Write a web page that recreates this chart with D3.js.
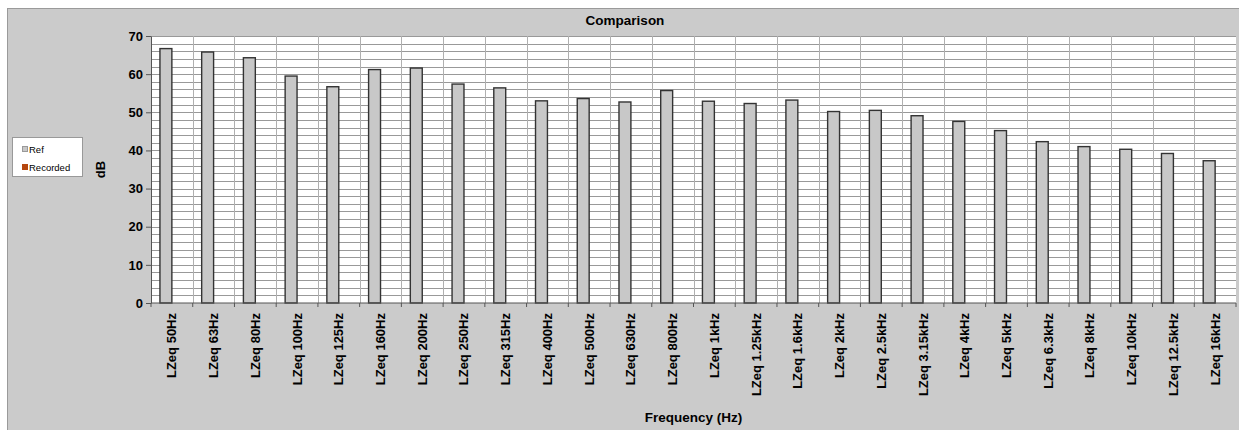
<!DOCTYPE html>
<html lang="en">
<head>
    <meta charset="UTF-8">
    <title>Comparison</title>
    <script src="https://d3js.org/d3.v7.min.js"></script>
    <style>
        body {
            margin: 0;
            padding: 0;
            background: #ffffff;
            font-family: 'Liberation Sans', Arial, sans-serif;
        }
        .axis text {
            font-size: 13px;
            font-weight: bold;
            fill: #000;
        }
        .legend text {
            font-size: 9.5px;
        }
    </style>
</head>
<body>
    <div id="chart"></div>
    <script>
        const categories = ["LZeq 50Hz", "LZeq 63Hz", "LZeq 80Hz", "LZeq 100Hz", "LZeq 125Hz", "LZeq 160Hz",
            "LZeq 200Hz", "LZeq 250Hz", "LZeq 315Hz", "LZeq 400Hz", "LZeq 500Hz", "LZeq 630Hz", "LZeq 800Hz",
            "LZeq 1kHz", "LZeq 1.25kHz", "LZeq 1.6kHz", "LZeq 2kHz", "LZeq 2.5kHz", "LZeq 3.15kHz", "LZeq 4kHz",
            "LZeq 5kHz", "LZeq 6.3kHz", "LZeq 8kHz", "LZeq 10kHz", "LZeq 12.5kHz", "LZeq 16kHz"];
        const refValues = [66.7, 65.8, 64.3, 59.5, 56.7, 61.2, 61.6, 57.4, 56.4, 53.0, 53.6, 52.7, 55.7,
            52.9, 52.3, 53.2, 50.2, 50.5, 49.1, 47.6, 45.2, 42.3, 41.0, 40.3, 39.2, 37.3];
        // the recorded series has no values in the source chart
        const recordedValues = categories.map(() => null);
        const seriesNames = ["Ref", "Recorded"];
        const seriesColors = ["#c8c8c8", "#b5460f"];
        const yTicks = [0, 10, 20, 30, 40, 50, 60, 70];

        const W = 1239, H = 430;
        const plot = { left: 151, top: 36, right: 1236, bottom: 303 };

        const svg = d3.select("#chart").append("svg")
            .attr("width", W)
            .attr("height", H);

        // grey chart frame
        svg.append("rect")
            .attr("x", 7.5).attr("y", 8.5)
            .attr("width", W).attr("height", H)
            .attr("fill", "#cbcbcb")
            .attr("stroke", "#9a9a9a");

        svg.append("text")
            .attr("x", 625).attr("y", 25)
            .attr("text-anchor", "middle")
            .attr("font-size", 13.5).attr("font-weight", "bold")
            .text("Comparison");

        const x = d3.scaleBand().domain(categories).range([plot.left, plot.right]).paddingInner(0).paddingOuter(0);
        const x1 = d3.scaleBand().domain(seriesNames).range([0, x.bandwidth()]).paddingInner(0).paddingOuter(0.75);
        const y = d3.scaleLinear().domain([0, 70]).range([plot.bottom, plot.top]);

        // plot background
        svg.append("rect")
            .attr("x", plot.left).attr("y", plot.top)
            .attr("width", plot.right - plot.left).attr("height", plot.bottom - plot.top)
            .attr("fill", "#fff");

        // horizontal grid every 2 dB
        svg.append("g").selectAll("line")
            .data(d3.range(2, 71, 2))
            .join("line")
            .attr("x1", plot.left).attr("x2", plot.right)
            .attr("y1", d => Math.round(y(d)) + 0.5).attr("y2", d => Math.round(y(d)) + 0.5)
            .attr("stroke", "#999").attr("stroke-width", 1);

        // vertical grid at category boundaries
        svg.append("g").selectAll("line")
            .data(categories.slice(1))
            .join("line")
            .attr("x1", d => Math.round(x(d)) + 0.5).attr("x2", d => Math.round(x(d)) + 0.5)
            .attr("y1", plot.top).attr("y2", plot.bottom)
            .attr("stroke", "#b0b0b0").attr("stroke-width", 1);

        // bars
        const series = [refValues, recordedValues];
        series.forEach((vals, si) => {
            svg.append("g").selectAll("rect")
                .data(categories.map((c, i) => ({ c, v: vals[i] })).filter(d => d.v != null))
                .join("rect")
                .attr("x", d => x(d.c) + x1(seriesNames[si]))
                .attr("y", d => y(d.v))
                .attr("width", x1.bandwidth())
                .attr("height", d => y(0) - y(d.v))
                .attr("fill", seriesColors[si])
                .attr("stroke", "#333")
                .attr("stroke-width", 1.4);
        });

        // y axis
        const yAxis = svg.append("g")
            .attr("class", "axis")
            .attr("transform", `translate(${plot.left},0)`)
            .call(d3.axisLeft(y).tickValues(yTicks).tickSize(5).tickPadding(3).tickSizeOuter(0));
        yAxis.select(".domain").attr("stroke", "#555");
        yAxis.selectAll(".tick line").attr("stroke", "#555");

        // x axis
        const xAxis = svg.append("g")
            .attr("class", "axis")
            .attr("transform", `translate(0,${plot.bottom})`);
        xAxis.append("line")
            .attr("x1", plot.left).attr("x2", plot.right)
            .attr("stroke", "#555");
        xAxis.selectAll(".bound")
            .data(categories.concat(["end"]))
            .join("line")
            .attr("class", "bound")
            .attr("x1", (d, i) => i < categories.length ? x(d) : plot.right)
            .attr("x2", (d, i) => i < categories.length ? x(d) : plot.right)
            .attr("y1", 0).attr("y2", 4)
            .attr("stroke", "#555");
        xAxis.selectAll("text")
            .data(categories)
            .join("text")
            .attr("transform", d => `translate(${x(d) + x.bandwidth() / 2 + 4.5},10) rotate(-90)`)
            .attr("text-anchor", "end")
            .text(d => d);

        // axis titles
        svg.append("text")
            .attr("transform", `translate(105,${(plot.top + plot.bottom) / 2}) rotate(-90)`)
            .attr("text-anchor", "middle")
            .attr("font-size", 13).attr("font-weight", "bold")
            .text("dB");
        svg.append("text")
            .attr("x", (plot.left + plot.right) / 2).attr("y", 422)
            .attr("text-anchor", "middle")
            .attr("font-size", 13.5).attr("font-weight", "bold")
            .text("Frequency (Hz)");

        // legend
        const legend = svg.append("g").attr("class", "legend");
        legend.append("rect")
            .attr("x", 12.5).attr("y", 137.5)
            .attr("width", 70).attr("height", 39)
            .attr("fill", "#fff").attr("stroke", "#999");
        seriesNames.forEach((name, i) => {
            legend.append("rect")
                .attr("x", 22.5).attr("y", 146.5 + i * 18)
                .attr("width", 5).attr("height", 5)
                .attr("fill", seriesColors[i])
                .attr("stroke", i === 0 ? "#999" : seriesColors[i]);
            legend.append("text")
                .attr("x", 29).attr("y", 152.5 + i * 18)
                .text(name);
        });
    </script>
</body>
</html>
